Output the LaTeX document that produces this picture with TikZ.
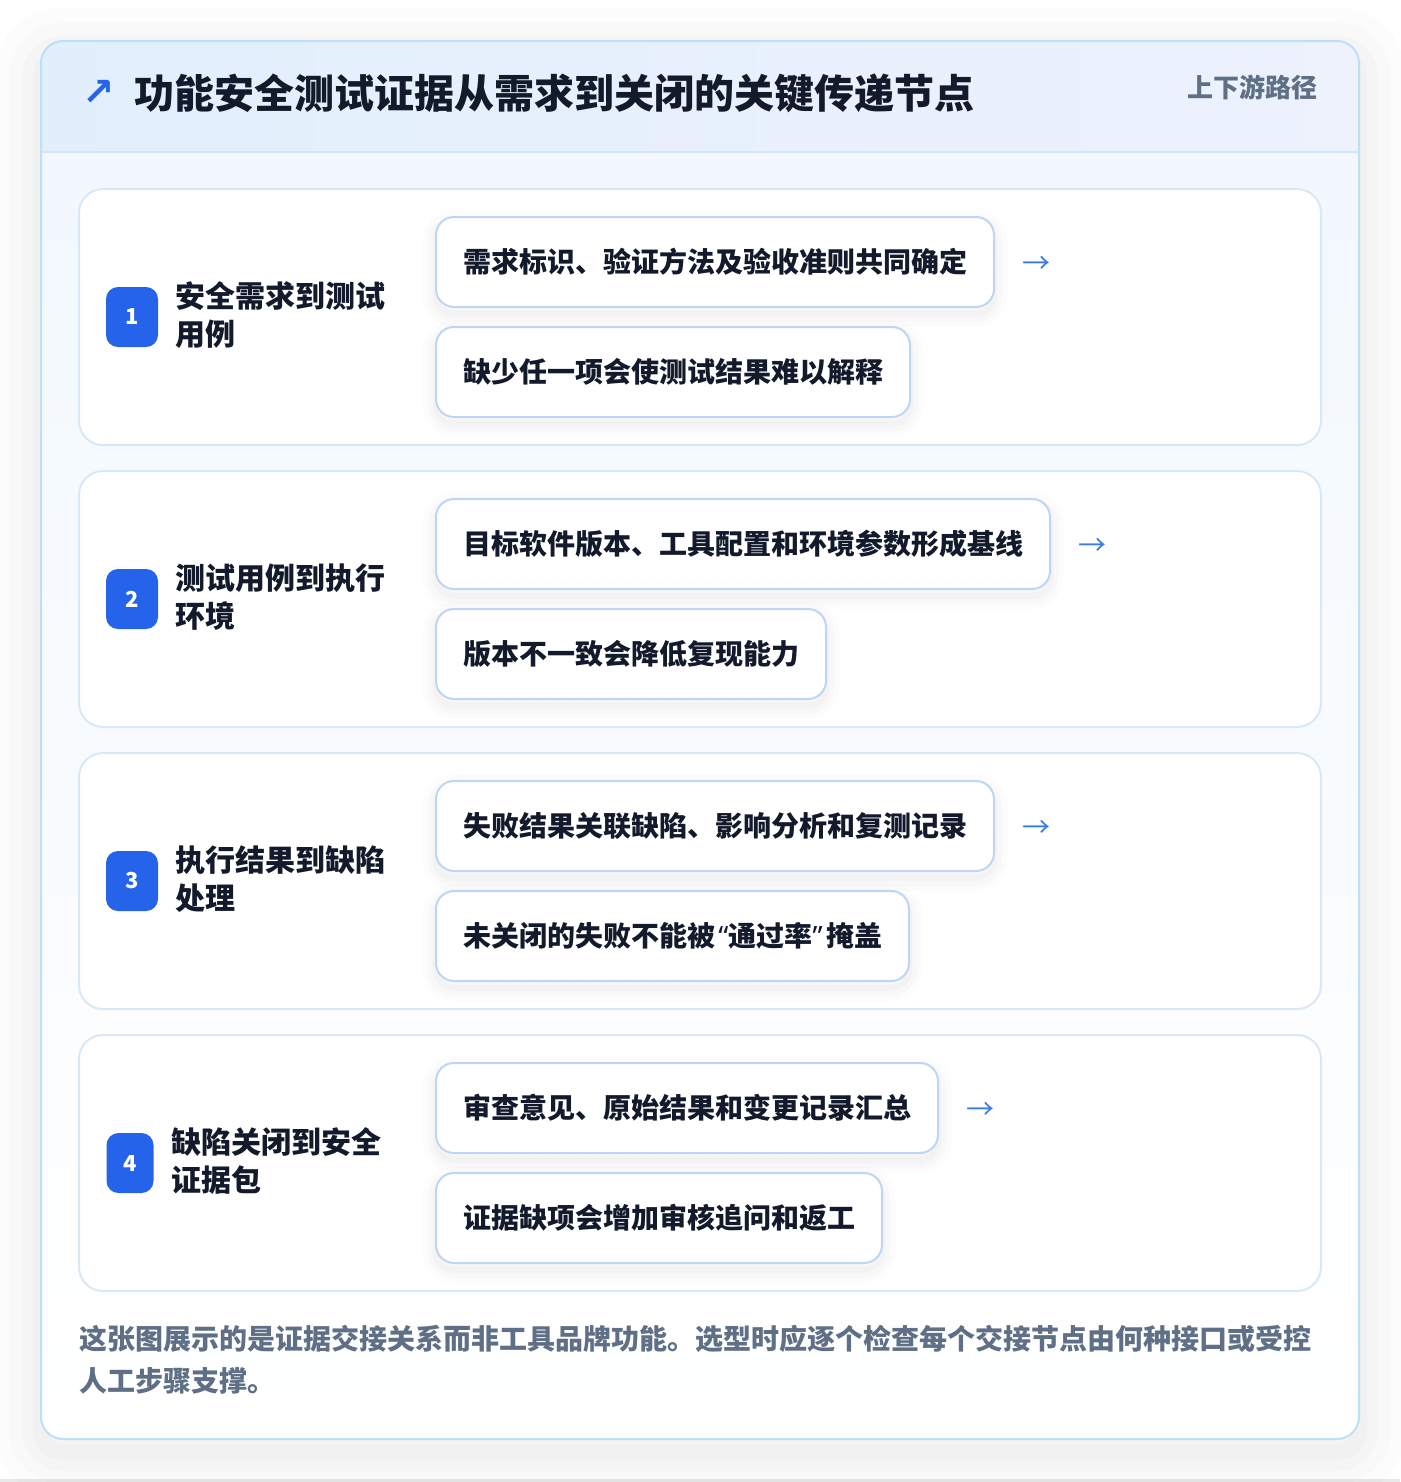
\documentclass[tikz,border=0pt]{standalone}
\usepackage{fontspec}
\setmainfont{Noto Sans CJK SC}
\newfontfamily\symfont{DejaVu Sans}
\newfontfamily\latinfont{Noto Sans}
\usetikzlibrary{positioning}
\definecolor{ink}{HTML}{131A2C}
\definecolor{muted}{HTML}{5F6F86}
\definecolor{badgeblue}{HTML}{2563EB}
\definecolor{flowblue}{HTML}{3A7BEA}
\definecolor{cardline}{HTML}{D9E8F7}
\definecolor{itemline}{HTML}{BFD6F2}
\definecolor{panelline}{HTML}{BEE0F5}
\definecolor{headline}{HTML}{D3E6F8}
\definecolor{headA}{HTML}{E1EFFC}
\definecolor{headB}{HTML}{EDF2FD}
\definecolor{bodytop}{HTML}{F2F8FE}

\begin{document}
\begin{tikzpicture}[x=0.75pt,y=-0.75pt,
  card/.style={draw=cardline,line width=1.5pt,fill=white,rounded corners=18pt},
  badge/.style={fill=badgeblue,rounded corners=9pt,minimum width=39pt,minimum height=45pt,inner sep=0pt,text=white,font=\bfseries\fontsize{16.5pt}{18pt}\selectfont},
  stage/.style={anchor=west,align=left,inner sep=0pt,text=ink,font=\bfseries\fontsize{22.5pt}{28.5pt}\selectfont},
  item/.style={draw=itemline,line width=1.5pt,fill=white,rounded corners=13.5pt,minimum height=67.5pt,inner xsep=20.25pt,inner ysep=0pt,anchor=west,text=ink,font=\bfseries\fontsize{21pt}{25pt}\selectfont,
    preaction={draw=black,line width=20pt,opacity=0.012,transform canvas={yshift=-5pt}},
    preaction={draw=black,line width=12pt,opacity=0.015,transform canvas={yshift=-5pt}},
    preaction={draw=black,line width=5pt,opacity=0.02,transform canvas={yshift=-5pt}}},
  flow/.style={right=20.25pt of #1,yshift=-2.25pt,inner sep=0pt,text=flowblue,font=\fontsize{21pt}{25pt}\selectfont}]
\useasboundingbox (0,0) rectangle (1400,1482);
\fill[white] (0,0) rectangle (1400,1482);
\fill[black!9] (0,1479) rectangle (1400,1482); % bottom strip

% panel
\path[fill=white,rounded corners=16.5pt,
  preaction={draw=black,line width=70pt,opacity=0.010,transform canvas={yshift=-10pt}},
  preaction={draw=black,line width=48pt,opacity=0.012,transform canvas={yshift=-10pt}},
  preaction={draw=black,line width=28pt,opacity=0.014,transform canvas={yshift=-10pt}},
  preaction={draw=black,line width=12pt,opacity=0.016,transform canvas={yshift=-10pt}}] (41,41) rectangle (1359,1439);
\begin{scope}
\clip[rounded corners=16.5pt] (41,41) rectangle (1359,1439);
\shade[top color=bodytop,bottom color=white] (41,152) rectangle (1359,1439);
\shade[left color=headA,right color=headB] (41,41) rectangle (1359,152);
\end{scope}
\draw[headline,line width=1.5pt] (41,152) -- (1359,152);
\draw[panelline,line width=1.5pt,rounded corners=16.5pt] (41,41) rectangle (1359,1439);

% header
\node[inner sep=0pt,text=badgeblue,font=\symfont\bfseries\fontsize{29pt}{30pt}\selectfont] (titlemark) at (99,93) {↗};
\node[anchor=west,inner sep=0pt,text=ink,font=\bfseries\fontsize{30pt}{34pt}\selectfont] (title) at (134,93) {功能安全测试证据从需求到关闭的关键传递节点};
\node[anchor=east,inner sep=0pt,text=muted,font=\bfseries\fontsize{19.5pt}{22pt}\selectfont] (route) at (1318,87) {上下游路径};

% stage 1
\draw[card] (79,189) rectangle (1321,445);
\node[badge] (badgeA) at (132,317) {1};
\node[stage] (stageA) at (175,315) {安全需求到测试\\用例};
\node[item] (itemAa) at (435,262) {需求标识、验证方法及验收准则共同确定};
\node[item] (itemAb) at (435,372) {缺少任一项会使测试结果难以解释};
\node[flow=itemAa] (nextA) {→};

% stage 2
\draw[card] (79,471) rectangle (1321,727);
\node[badge] (badgeB) at (132,599) {2};
\node[stage] (stageB) at (175,597) {测试用例到执行\\环境};
\node[item] (itemBa) at (435,544) {目标软件版本、工具配置和环境参数形成基线};
\node[item] (itemBb) at (435,654) {版本不一致会降低复现能力};
\node[flow=itemBa] (nextB) {→};

% stage 3
\draw[card] (79,753) rectangle (1321,1009);
\node[badge] (badgeC) at (132,881) {3};
\node[stage] (stageC) at (175,879) {执行结果到缺陷\\处理};
\node[item] (itemCa) at (435,826) {失败结果关联缺陷、影响分析和复测记录};
\node[item] (itemCb) at (435,936) {未关闭的失败不能被\kern2.6pt{\latinfont “}通过率{\latinfont ”}\kern2.6pt掩盖};
\node[flow=itemCa] (nextC) {→};

% stage 4
\draw[card] (79,1035) rectangle (1321,1291);
\node[badge,minimum width=35.25pt] (badgeD) at (130,1163) {4};
\node[stage] (stageD) at (171,1161) {缺陷关闭到安全\\证据包};
\node[item] (itemDa) at (435,1108) {审查意见、原始结果和变更记录汇总};
\node[item] (itemDb) at (435,1218) {证据缺项会增加审核追问和返工};
\node[flow=itemDa] (nextD) {→};

% footnote
\node[anchor=west,align=left,inner sep=0pt,text=muted,font=\bfseries\fontsize{21pt}{31.5pt}\selectfont] (note) at (79,1360) {这张图展示的是证据交接关系而非工具品牌功能。选型时应逐个检查每个交接节点由何种接口或受控\\人工步骤支撑。};
\end{tikzpicture}
\end{document}
